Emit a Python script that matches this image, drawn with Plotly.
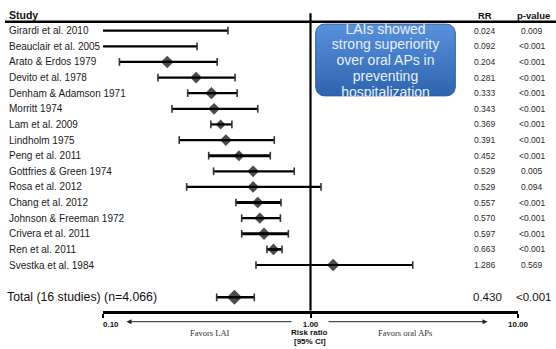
import math
import plotly.graph_objects as go

# ---------------- data ----------------
studies = ["Girardi et al. 2010", "Beauclair et al. 2005", "Arato & Erdos 1979", "Devito et al. 1978",
           "Denham & Adamson 1971", "Morritt 1974", "Lam et al. 2009", "Lindholm 1975",
           "Peng et al. 2011", "Gottfries & Green 1974", "Rosa et al. 2012", "Chang et al. 2012",
           "Johnson & Freeman 1972", "Crivera et al. 2011", "Ren et al. 2011", "Svestka et al. 1984"]
rr = [0.024, 0.092, 0.204, 0.281, 0.333, 0.343, 0.369, 0.391, 0.452, 0.529, 0.529, 0.557,
      0.570, 0.597, 0.663, 1.286]
ci_low = [0.0014, 0.030, 0.120, 0.184, 0.256, 0.215, 0.331, 0.233, 0.323, 0.341, 0.253, 0.437,
          0.466, 0.466, 0.617, 0.546]
ci_high = [0.400, 0.284, 0.355, 0.433, 0.443, 0.557, 0.418, 0.669, 0.640, 0.835, 1.124, 0.721,
           0.716, 0.782, 0.729, 3.110]
p_values = ["0.009", "<0.001", "<0.001", "<0.001", "<0.001", "<0.001", "<0.001", "<0.001",
            "<0.001", "0.005", "0.094", "<0.001", "<0.001", "<0.001", "<0.001", "0.569"]

total_label = "Total (16 studies) (n=4.066)"
total_rr = 0.430
total_low = 0.353
total_high = 0.536
total_p = "<0.001"

tick_values = [0.1, 1, 10]
tick_labels = ["\u00a0\u00a0\u00a0\u00a0\u00a0\u00a0\u00a00.10", "1.00", "10.00"]

box_lines = ["LAIs showed", "strong superiority", "over oral APs in", "preventing", "hospitalization"]

# ---------------- styles / layout geometry ----------------
W, H = 556, 349
ROW0, STEP = 30.7, 15.62
AXIS_Y = 310.7
X_LEFT, X_RIGHT = 103, 518
TOTAL_Y = 297.3
line_widths = [2.2, 2.2, 2.2, 2.2, 2.2, 2.2, 2.2, 2.2, 3.0, 2.2, 2.2, 3.0, 2.2, 3.0, 2.6, 2.2]
marker_sizes = [9, 9, 9.7, 9, 9.5, 9, 7.7, 9, 8.5, 9, 9, 9, 8.7, 9.5, 9, 9.7]
FONT = "Liberation Sans"


def py(p):
    return 1 - p / H


def px(p):
    return p / W


def row(p):
    return (p - ROW0) / STEP


def to_log(p):
    return -1 + 2 * (p - X_LEFT) / (X_RIGHT - X_LEFT)


n = len(studies)
rows = list(range(n))
total_row = row(TOTAL_Y)

fig = go.Figure()

# CI lines grouped by width
for w in sorted(set(line_widths)):
    xs, ys = [], []
    for i in rows:
        if line_widths[i] == w:
            xs += [ci_low[i], ci_high[i], None]
            ys += [i, i, None]
    fig.add_trace(go.Scatter(x=xs, y=ys, mode="lines", line=dict(color="black", width=w),
                             hoverinfo="skip"))
# total CI line
fig.add_trace(go.Scatter(x=[total_low, total_high], y=[total_row, total_row], mode="lines",
                         line=dict(color="black", width=2.4), hoverinfo="skip"))
# caps
fig.add_trace(go.Scatter(x=ci_low + ci_high + [total_low, total_high],
                         y=rows + rows + [total_row, total_row], mode="markers",
                         marker=dict(symbol="line-ns", size=5.5,
                                     line=dict(color="#333333", width=1.6)),
                         hoverinfo="skip"))
# diamonds
fig.add_trace(go.Scatter(x=rr + [total_rr], y=rows + [total_row], mode="markers",
                         marker=dict(symbol="diamond", size=marker_sizes + [11.5], color="black",
                                     line=dict(width=0)),
                         hoverinfo="skip"))
# line of no effect
fig.add_trace(go.Scatter(x=[1, 1], y=[row(13.3), row(AXIS_Y)], mode="lines",
                         line=dict(color="black", width=2.2), hoverinfo="skip"))

# ---------------- text box (overlay axes) ----------------
bx0, bx1, by0, by1 = 315, 456, 23.3, 96.7
bw, bh = bx1 - bx0, by1 - by0
rad = 9.0
inset = 0.7
pts_x, pts_y = [], []
corners = [(bw - rad - inset, bh - rad - inset, 0, 90),
           (rad + inset, bh - rad - inset, 90, 180),
           (rad + inset, rad + inset, 180, 270),
           (bw - rad - inset, rad + inset, 270, 360)]
for cx, cy, a0, a1 in corners:
    for k in range(9):
        a = math.radians(a0 + (a1 - a0) * k / 8)
        pts_x.append((cx + rad * math.cos(a)) / bw)
        pts_y.append((cy + rad * math.sin(a)) / bh)
pts_x.append(pts_x[0])
pts_y.append(pts_y[0])
fig.add_trace(go.Scatter(x=pts_x, y=pts_y, xaxis="x2", yaxis="y2", mode="lines", fill="toself",
                         line=dict(color="#2d5d9f", width=1),
                         fillgradient=dict(type="vertical",
                                           colorscale=[[0, "#2d64ae"], [1, "#5891dc"]]),
                         hoverinfo="skip"))
fig.add_trace(go.Scatter(x=[0.5] * len(box_lines),
                         y=[(by1 - (30.0 + j * 15.9)) / bh for j in range(len(box_lines))],
                         xaxis="x2", yaxis="y2", mode="text", text=box_lines,
                         textposition="middle center", cliponaxis=True,
                         textfont=dict(family=FONT, size=14, color="#e8eff9"),
                         hoverinfo="skip"))

# ---------------- annotations ----------------
ann = []
for i, name in enumerate(studies):
    ann.append(dict(x=px(7), y=i, xref="paper", yref="y", text=name, showarrow=False,
                    xanchor="left", yanchor="middle",
                    font=dict(family=FONT, size=10, color="#1a1a1a")))
    ann.append(dict(x=px(484.5), y=i, xref="paper", yref="y", text=f"{rr[i]:.3f}",
                    showarrow=False, xanchor="center", yanchor="middle",
                    font=dict(family=FONT, size=8.5, color="#2a2a2a")))
    ann.append(dict(x=px(532), y=i, xref="paper", yref="y", text=p_values[i].replace("<", "&lt;"),
                    showarrow=False, xanchor="center", yanchor="middle",
                    font=dict(family=FONT, size=8.5, color="#2a2a2a")))
ann.append(dict(x=px(5), y=total_row, xref="paper", yref="y", text=total_label, showarrow=False,
                xanchor="left", yanchor="middle", font=dict(family=FONT, size=12.3, color="#111")))
ann.append(dict(x=px(487), y=total_row, xref="paper", yref="y", text=f"{total_rr:.3f}",
                showarrow=False, xanchor="center", yanchor="middle",
                font=dict(family=FONT, size=11.5, color="#111")))
ann.append(dict(x=px(534), y=total_row, xref="paper", yref="y", text=total_p.replace("<", "&lt;"),
                showarrow=False, xanchor="center", yanchor="middle",
                font=dict(family=FONT, size=11.5, color="#111")))
# headers
ann.append(dict(x=px(7), y=py(15), xref="paper", yref="paper", text="<b>Study</b>",
                showarrow=False, xanchor="left", yanchor="middle",
                font=dict(family=FONT, size=10.5, color="#111")))
ann.append(dict(x=px(484.5), y=py(15), xref="paper", yref="paper", text="<b>RR</b>",
                showarrow=False, xanchor="center", yanchor="middle",
                font=dict(family=FONT, size=9.5, color="#111")))
ann.append(dict(x=px(533), y=py(15), xref="paper", yref="paper", text="<b>p-value</b>",
                showarrow=False, xanchor="center", yanchor="middle",
                font=dict(family=FONT, size=9.5, color="#111")))
# arrows
ann.append(dict(x=to_log(126.5), y=py(321.7), xref="x", yref="paper", ax=to_log(293),
                axref="x", ay=0, ayref="pixel", text="", showarrow=True, arrowhead=2,
                arrowsize=1, arrowwidth=1, arrowcolor="#222"))
ann.append(dict(x=to_log(487.5), y=py(321.7), xref="x", yref="paper", ax=to_log(327),
                axref="x", ay=0, ayref="pixel", text="", showarrow=True, arrowhead=2,
                arrowsize=1, arrowwidth=1, arrowcolor="#222"))
# bottom captions
ann.append(dict(x=px(210), y=py(333), xref="paper", yref="paper", text="Favors LAI",
                showarrow=False, xanchor="center", yanchor="middle",
                font=dict(family="Liberation Serif", size=8.5, color="#333")))
ann.append(dict(x=px(405), y=py(333), xref="paper", yref="paper", text="Favors oral APs",
                showarrow=False, xanchor="center", yanchor="middle",
                font=dict(family="Liberation Serif", size=8.5, color="#333")))
ann.append(dict(x=px(309.5), y=py(332), xref="paper", yref="paper", text="<b>Risk ratio</b>",
                showarrow=False, xanchor="center", yanchor="middle",
                font=dict(family=FONT, size=8, color="#111")))
ann.append(dict(x=px(309.5), y=py(341), xref="paper", yref="paper", text="<b>[95% CI]</b>",
                showarrow=False, xanchor="center", yanchor="middle",
                font=dict(family=FONT, size=8, color="#111")))

shapes = [dict(type="line", xref="paper", yref="paper", x0=px(5), x1=1, y0=py(21.7), y1=py(21.7),
               line=dict(color="black", width=2.6))]

fig.update_layout(
    width=W, height=H, margin=dict(l=0, r=0, t=0, b=0, autoexpand=False),
    paper_bgcolor="white", plot_bgcolor="white", showlegend=False, hovermode=False,
    annotations=ann, shapes=shapes,
    xaxis=dict(type="log", range=[-1, 1], domain=[px(X_LEFT), px(X_RIGHT)], automargin=False,
               showline=True, linewidth=3, linecolor="black", showgrid=False, zeroline=False,
               ticks="outside", ticklen=4, tickwidth=1.6, tickcolor="black",
               tickvals=tick_values, ticktext=[f"<b>{t}</b>" for t in tick_labels],
               tickfont=dict(family=FONT, size=8, color="#111"), anchor="y", fixedrange=True),
    yaxis=dict(range=[row(AXIS_Y), row(0)], domain=[py(AXIS_Y), 1], visible=False,
               automargin=False, showgrid=False, zeroline=False, fixedrange=True),
    xaxis2=dict(domain=[px(bx0), px(bx1)], range=[0, 1], visible=False, anchor="y2",
                automargin=False, fixedrange=True),
    yaxis2=dict(domain=[py(by1), py(by0)], range=[0, 1], visible=False, anchor="x2",
                automargin=False, fixedrange=True),
)

fig.write_html("out.html", config={"displayModeBar": False})
